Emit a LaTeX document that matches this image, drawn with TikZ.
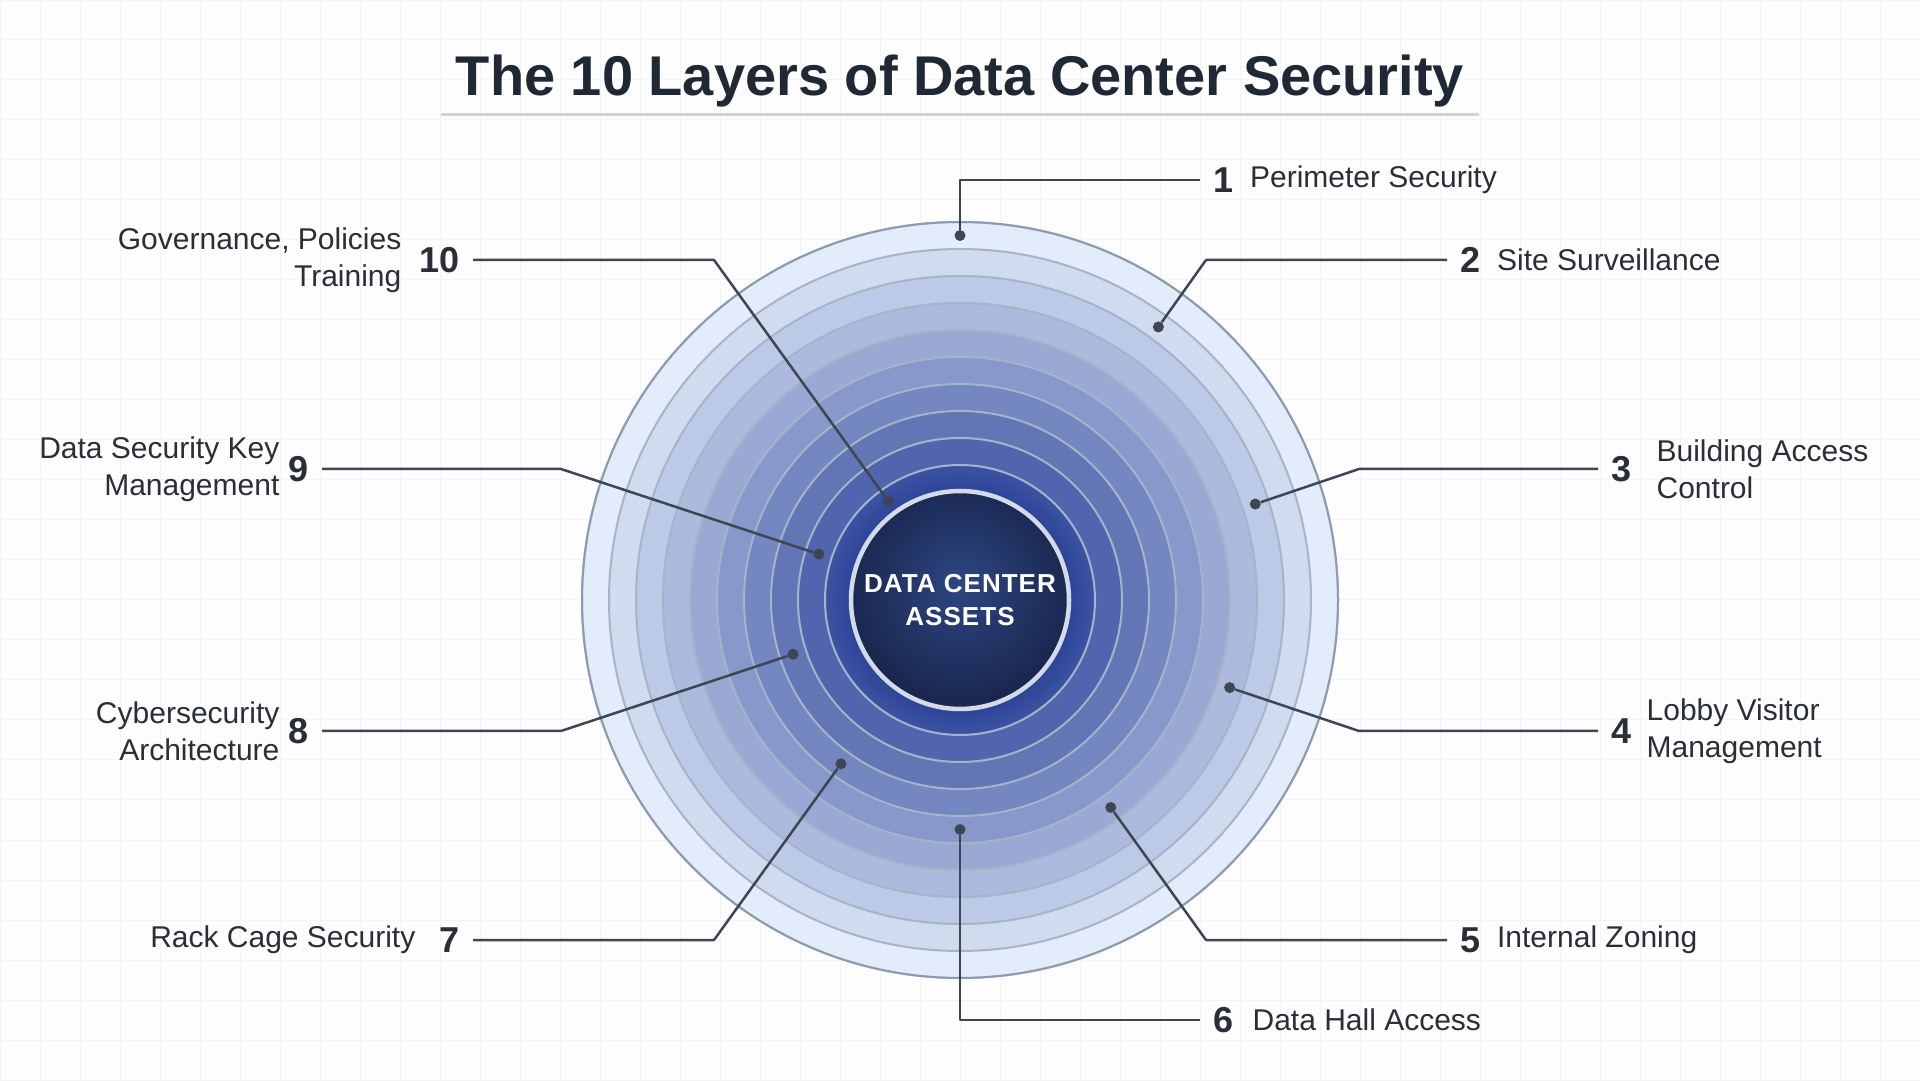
\documentclass[tikz,border=0pt]{standalone}
\usepackage{fontspec}
\setmainfont{Liberation Sans}
\usetikzlibrary{positioning}

\definecolor{paper}{HTML}{FDFDFD}
\definecolor{gridline}{HTML}{F3F4F6}
\definecolor{titlecol}{HTML}{1F2935}
\definecolor{rulecol}{HTML}{CDD3DA}
\definecolor{ink}{HTML}{2A2F37}
\definecolor{leadercol}{HTML}{3E4653}
\definecolor{ringlight}{HTML}{E2ECFA}
\definecolor{ringdark}{HTML}{3C53A2}
\definecolor{glowdark}{HTML}{2D4398}
\definecolor{ringline}{HTML}{A6B3C8}
\definecolor{rimline}{HTML}{8D9AB0}
\definecolor{coreedge}{HTML}{D3DBE8}
\definecolor{corelight}{HTML}{2E4683}
\definecolor{coredark}{HTML}{1A2850}

\pgfdeclareradialshading{coreshade}{\pgfpoint{0bp}{4bp}}{color(0bp)=(corelight); color(25bp)=(coredark); color(50bp)=(coredark)}
\pgfdeclareradialshading{ringglow}{\pgfpoint{0bp}{0bp}}{color(0bp)=(glowdark); color(20bp)=(glowdark); color(25bp)=(ringdark); color(50bp)=(ringdark)}

\tikzset{
  ring/.style={draw=ringline, line width=2pt},
  leader/.style={draw=leadercol, line width=2.5pt, line join=round},
  dot/.style={circle, fill=leadercol, inner sep=0pt, minimum size=11pt},
  num/.style={inner sep=0pt, text=ink, font=\fontsize{36}{40}\selectfont\bfseries},
  lbl/.style={inner sep=0pt, text=ink, font=\fontsize{30}{37}\selectfont},
}

\begin{document}
\begin{tikzpicture}[x=1pt, y=1pt]
  \useasboundingbox (0,0) rectangle (1920,1080);
  \fill[paper] (0,0) rectangle (1920,1080);
  \draw[gridline, line width=1pt] (0,0) grid[step=40pt] (1920,1080);

  % title
  \node[anchor=base, text=titlecol, font=\fontsize{56}{68}\selectfont\bfseries] (title) at (960,984) {The 10 Layers of Data Center Security};
  \draw[rulecol, line width=3pt] (441,965) -- (1479,965);

  % rings, outside in
  \coordinate (c) at (960,480);
  \foreach \k [evaluate=\k as \r using 378-27*(\k-1), evaluate=\k as \p using int(100*(\k-1)/9)] in {1,...,9}
    \draw[ring, fill=ringdark!\p!ringlight] (c) circle (\r);
  \draw[ring, shading=ringglow] (c) circle (135);
  \draw[rimline, line width=2pt] (c) circle (378);

  \node[circle, minimum size=218pt, draw=coreedge, line width=4.5pt, shading=coreshade,
        text=white, align=center, font=\fontsize{26}{33}\selectfont\bfseries\addfontfeature{LetterSpace=4}] (core) at (c) {DATA CENTER\\ASSETS};

  % dots, one per ring
  \foreach \k [evaluate=\k as \a using 90-36*(\k-1), evaluate=\k as \r using 364.5-27*(\k-1)] in {1,...,10}
    \node[dot] (d\k) at ([shift={(\a:\r)}]c) {};

  % right-hand labels
  \foreach \k/\ex/\ey/\tx/\gap/\txt in {
      1/960/900/1200/16.5/{Perimeter Security},
      2/1206/820/1447/16.5/{Site Surveillance},
      3/1359/611/1598/25/{Building Access\\Control},
      4/1359/349/1598/15/{Lobby Visitor\\Management},
      5/1206/140/1447/16.5/{Internal Zoning},
      6/960/60/1200/19/{Data Hall Access}}{
    \coordinate (e\k) at (\ex,\ey);
    \coordinate (t\k) at (\tx,\ey);
    \draw[leader] (d\k) -- (e\k) -- (t\k);
    \node[num, right=13pt of t\k] (n\k) {\k};
    \node[lbl, align=left, right=\gap pt of n\k] (l\k) {\txt};
  }

  % left-hand labels
  \foreach \k/\ex/\ey/\tx/\gap/\txt in {
      7/714/140/473/24/{Rack Cage Security},
      8/561/349/322/9/{Cybersecurity\\Architecture},
      9/561/611/322/9/{Data Security Key\\Management},
      10/714/820/473/18/{Governance, Policies\\Training}}{
    \coordinate (e\k) at (\ex,\ey);
    \coordinate (t\k) at (\tx,\ey);
    \draw[leader] (d\k) -- (e\k) -- (t\k);
    \node[num, left=13pt of t\k] (n\k) {\k};
    \node[lbl, align=right, left=\gap pt of n\k] (l\k) {\txt};
  }
\end{tikzpicture}
\end{document}
